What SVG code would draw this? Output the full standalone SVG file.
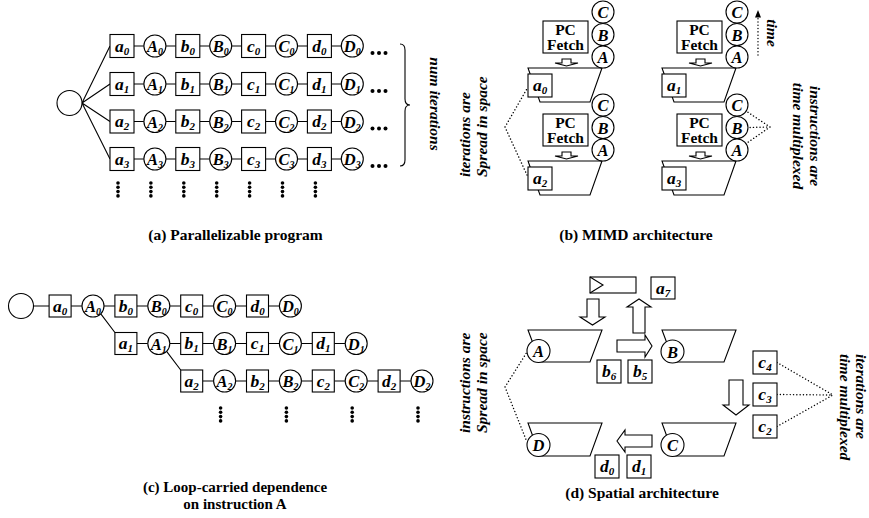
<svg xmlns="http://www.w3.org/2000/svg" width="869" height="518" viewBox="0 0 869 518">
<style>
.ln{stroke:#000;stroke-width:1.1;fill:none}
.nd{fill:#fff;stroke:#000;stroke-width:1.1}
.lb{font-family:"Liberation Serif","Times New Roman",serif;font-weight:bold;font-style:italic;font-size:17.5px;text-anchor:middle}
.sb{font-size:11px}
circle + text.lb{font-size:16.5px}
circle + text .sb{font-size:10px}
.cap{font-family:"Liberation Serif","Times New Roman",serif;font-weight:bold;font-size:15.5px;text-anchor:middle}
.rt{font-family:"Liberation Serif","Times New Roman",serif;font-weight:bold;font-style:italic;font-size:15.5px}
.dot{stroke:#000;stroke-width:1.4;stroke-dasharray:0.1 3.2;stroke-linecap:round;fill:none}
.pc{font-family:"Liberation Serif","Times New Roman",serif;font-weight:bold;font-size:15.5px;text-anchor:middle}
.blk{fill:#fff;stroke:#000;stroke-width:1.1}
</style>
<defs>
<g id="vd"><circle cx="0" cy="0" r="1.8"/><circle cx="0" cy="4.3" r="1.8"/><circle cx="0" cy="8.6" r="1.8"/><circle cx="0" cy="12.9" r="1.8"/></g>
<g id="hd"><circle cx="0" cy="0" r="2"/><circle cx="6.5" cy="0" r="2"/><circle cx="13" cy="0" r="2"/></g>
<g id="pe">
<polygon class="nd" points="528,68 602,68 590,102 540,102"/>
<rect class="nd" x="543" y="21" width="45" height="32"/>
<text class="pc" x="565.5" y="35">PC</text><text class="pc" x="565.5" y="50">Fetch</text>
<polygon class="nd" points="562,59 571,59 571,63 578,63 566.5,66 555,63 562,63"/>
<rect class="nd" x="528" y="74" width="24" height="23"/>
<circle class="nd" cx="603" cy="12" r="11"/><text class="lb" x="603" y="18">C</text>
<circle class="nd" cx="603" cy="34.5" r="11"/><text class="lb" x="603" y="40.5">B</text>
<circle class="nd" cx="603" cy="57" r="11"/><text class="lb" x="603" y="63">A</text>
</g>
</defs>

<!-- connectors -->
<g id="connectors">
<path class="ln" d="M82 103 L110 46 M82 103 L110 84 M82 103 L110 121.5 M82 103 L110 159"/>
<path class="ln" d="M134 46H143.9M165.9 46H175.8M199.8 46H209.7M231.7 46H241.6M265.6 46H275.5M297.5 46H307.4M331.4 46H341.3"/>
<path class="ln" d="M134 84H143.9M165.9 84H175.8M199.8 84H209.7M231.7 84H241.6M265.6 84H275.5M297.5 84H307.4M331.4 84H341.3"/>
<path class="ln" d="M134 121.5H143.9M165.9 121.5H175.8M199.8 121.5H209.7M231.7 121.5H241.6M265.6 121.5H275.5M297.5 121.5H307.4M331.4 121.5H341.3"/>
<path class="ln" d="M134 159H143.9M165.9 159H175.8M199.8 159H209.7M231.7 159H241.6M265.6 159H275.5M297.5 159H307.4M331.4 159H341.3"/>
<path class="ln" d="M400 44Q405 44 405 50V99Q405 105 410 105Q405 105 405 111V160Q405 166 400 166"/>
<path class="dot" d="M505 127L528 87M505 127L527 175"/>
<path class="dot" d="M770 127L746 111M770 127L748 127.5M770 127L746 143.7"/>
<path class="dot" d="M758 55V17"/>
<polygon points="755,17.5 761,17.5 758,10"/>
<path class="ln" d="M33.5 306H49.1M71.1 306H82M104 306H114.9M136.9 306H147.8M169.8 306H180.7M202.7 306H213.6M235.6 306H246.5M268.5 306H279.4"/>
<path class="ln" d="M136.9 343.5H147.8M169.8 343.5H180.7M202.7 343.5H213.6M235.6 343.5H246.5M268.5 343.5H279.4M301.4 343.5H312.3M334.3 343.5H345.2"/>
<path class="ln" d="M202.7 381H213.6M235.6 381H246.5M268.5 381H279.4M301.4 381H312.3M334.3 381H345.2M367.2 381H378.1M400.1 381H411"/>
<path class="ln" d="M100.8 313.8L114.9 332.5M166.6 351.3L180.7 370"/>
<polygon class="blk" points="587,299 599,299 599,317 605,317 592.5,325 580,317 587,317"/>
<polygon class="blk" points="633,333 645,333 645,307 651,307 639,299 627,307 633,307"/>
<polygon class="blk" points="617,340 645,340 645,335 652,346 645,357 645,352 617,352"/>
<polygon class="blk" points="729,380 743,380 743,405 749,405 736,415 723,405 729,405"/>
<polygon class="blk" points="652,435 625,435 625,430 617,441 625,452 625,447 652,447"/>
<path class="dot" d="M505 387L527 352M505 387L527 442"/>
<path class="dot" d="M777 362.5L833 395M777 394.5L833 395M777 426.5L833 395"/>
</g>

<!-- (a) -->
<g id="a-root"><circle class="nd" cx="69.5" cy="103" r="12.5"/></g>
<g id="a-a0"><rect class="nd" x="110" y="34.5" width="24" height="23"/><text class="lb" x="122" y="51.5">a<tspan class="sb" dy="3">0</tspan></text></g>
<g id="a-A0"><circle class="nd" cx="154.9" cy="46" r="11"/><text class="lb" x="154.9" y="52">A<tspan class="sb" dy="3">0</tspan></text></g>
<g id="a-b0"><rect class="nd" x="175.8" y="34.5" width="24" height="23"/><text class="lb" x="187.8" y="51.5">b<tspan class="sb" dy="3">0</tspan></text></g>
<g id="a-B0"><circle class="nd" cx="220.7" cy="46" r="11"/><text class="lb" x="220.7" y="52">B<tspan class="sb" dy="3">0</tspan></text></g>
<g id="a-c0"><rect class="nd" x="241.6" y="34.5" width="24" height="23"/><text class="lb" x="253.6" y="51.5">c<tspan class="sb" dy="3">0</tspan></text></g>
<g id="a-C0"><circle class="nd" cx="286.5" cy="46" r="11"/><text class="lb" x="286.5" y="52">C<tspan class="sb" dy="3">0</tspan></text></g>
<g id="a-d0"><rect class="nd" x="307.4" y="34.5" width="24" height="23"/><text class="lb" x="319.4" y="51.5">d<tspan class="sb" dy="3">0</tspan></text></g>
<g id="a-D0"><circle class="nd" cx="352.3" cy="46" r="11"/><text class="lb" x="352.3" y="52">D<tspan class="sb" dy="3">0</tspan></text></g>

<g id="a-a1"><rect class="nd" x="110" y="72.5" width="24" height="23"/><text class="lb" x="122" y="89.5">a<tspan class="sb" dy="3">1</tspan></text></g>
<g id="a-A1"><circle class="nd" cx="154.9" cy="84" r="11"/><text class="lb" x="154.9" y="90">A<tspan class="sb" dy="3">1</tspan></text></g>
<g id="a-b1"><rect class="nd" x="175.8" y="72.5" width="24" height="23"/><text class="lb" x="187.8" y="89.5">b<tspan class="sb" dy="3">1</tspan></text></g>
<g id="a-B1"><circle class="nd" cx="220.7" cy="84" r="11"/><text class="lb" x="220.7" y="90">B<tspan class="sb" dy="3">1</tspan></text></g>
<g id="a-c1"><rect class="nd" x="241.6" y="72.5" width="24" height="23"/><text class="lb" x="253.6" y="89.5">c<tspan class="sb" dy="3">1</tspan></text></g>
<g id="a-C1"><circle class="nd" cx="286.5" cy="84" r="11"/><text class="lb" x="286.5" y="90">C<tspan class="sb" dy="3">1</tspan></text></g>
<g id="a-d1"><rect class="nd" x="307.4" y="72.5" width="24" height="23"/><text class="lb" x="319.4" y="89.5">d<tspan class="sb" dy="3">1</tspan></text></g>
<g id="a-D1"><circle class="nd" cx="352.3" cy="84" r="11"/><text class="lb" x="352.3" y="90">D<tspan class="sb" dy="3">1</tspan></text></g>

<g id="a-a2"><rect class="nd" x="110" y="110" width="24" height="23"/><text class="lb" x="122" y="127">a<tspan class="sb" dy="3">2</tspan></text></g>
<g id="a-A2"><circle class="nd" cx="154.9" cy="121.5" r="11"/><text class="lb" x="154.9" y="127.5">A<tspan class="sb" dy="3">2</tspan></text></g>
<g id="a-b2"><rect class="nd" x="175.8" y="110" width="24" height="23"/><text class="lb" x="187.8" y="127">b<tspan class="sb" dy="3">2</tspan></text></g>
<g id="a-B2"><circle class="nd" cx="220.7" cy="121.5" r="11"/><text class="lb" x="220.7" y="127.5">B<tspan class="sb" dy="3">2</tspan></text></g>
<g id="a-c2"><rect class="nd" x="241.6" y="110" width="24" height="23"/><text class="lb" x="253.6" y="127">c<tspan class="sb" dy="3">2</tspan></text></g>
<g id="a-C2"><circle class="nd" cx="286.5" cy="121.5" r="11"/><text class="lb" x="286.5" y="127.5">C<tspan class="sb" dy="3">2</tspan></text></g>
<g id="a-d2"><rect class="nd" x="307.4" y="110" width="24" height="23"/><text class="lb" x="319.4" y="127">d<tspan class="sb" dy="3">2</tspan></text></g>
<g id="a-D2"><circle class="nd" cx="352.3" cy="121.5" r="11"/><text class="lb" x="352.3" y="127.5">D<tspan class="sb" dy="3">2</tspan></text></g>

<g id="a-a3"><rect class="nd" x="110" y="147.5" width="24" height="23"/><text class="lb" x="122" y="164.5">a<tspan class="sb" dy="3">3</tspan></text></g>
<g id="a-A3"><circle class="nd" cx="154.9" cy="159" r="11"/><text class="lb" x="154.9" y="165">A<tspan class="sb" dy="3">3</tspan></text></g>
<g id="a-b3"><rect class="nd" x="175.8" y="147.5" width="24" height="23"/><text class="lb" x="187.8" y="164.5">b<tspan class="sb" dy="3">3</tspan></text></g>
<g id="a-B3"><circle class="nd" cx="220.7" cy="159" r="11"/><text class="lb" x="220.7" y="165">B<tspan class="sb" dy="3">3</tspan></text></g>
<g id="a-c3"><rect class="nd" x="241.6" y="147.5" width="24" height="23"/><text class="lb" x="253.6" y="164.5">c<tspan class="sb" dy="3">3</tspan></text></g>
<g id="a-C3"><circle class="nd" cx="286.5" cy="159" r="11"/><text class="lb" x="286.5" y="165">C<tspan class="sb" dy="3">3</tspan></text></g>
<g id="a-d3"><rect class="nd" x="307.4" y="147.5" width="24" height="23"/><text class="lb" x="319.4" y="164.5">d<tspan class="sb" dy="3">3</tspan></text></g>
<g id="a-D3"><circle class="nd" cx="352.3" cy="159" r="11"/><text class="lb" x="352.3" y="165">D<tspan class="sb" dy="3">3</tspan></text></g>

<g id="a-dots">
<use href="#hd" x="372.5" y="53"/><use href="#hd" x="372.5" y="91"/><use href="#hd" x="372.5" y="128.5"/><use href="#hd" x="372.5" y="166"/>
<use href="#vd" x="118" y="183"/><use href="#vd" x="150.9" y="183"/><use href="#vd" x="183.8" y="183"/><use href="#vd" x="216.7" y="183"/><use href="#vd" x="249.6" y="183"/><use href="#vd" x="282.5" y="183"/><use href="#vd" x="315.4" y="183"/>
</g>
<text class="rt" transform="translate(430,104) rotate(90)" text-anchor="middle">num iterations</text>
<text class="cap" x="235.5" y="240">(a) Parallelizable program</text>

<!-- (b) MIMD -->
<g id="mimd-pe0"><use href="#pe"/><text class="lb" x="540" y="91">a<tspan class="sb" dy="3">0</tspan></text></g>
<g id="mimd-pe1" transform="translate(134,0)"><use href="#pe"/><text class="lb" x="540" y="91">a<tspan class="sb" dy="3">1</tspan></text></g>
<g id="mimd-pe2" transform="translate(0,93)"><use href="#pe"/><text class="lb" x="540" y="91">a<tspan class="sb" dy="3">2</tspan></text></g>
<g id="mimd-pe3" transform="translate(134,93)"><use href="#pe"/><text class="lb" x="540" y="91">a<tspan class="sb" dy="3">3</tspan></text></g>
<text class="rt" transform="translate(767,33) rotate(90)" text-anchor="middle">time</text>
<text class="rt" transform="translate(810,136) rotate(90)" text-anchor="middle"><tspan x="0" y="0">instructions are</tspan><tspan x="0" y="17">time multiplexed</tspan></text>
<text class="rt" transform="translate(470,177) rotate(-90)"><tspan x="0" y="0">iterations are</tspan><tspan x="0" y="17">Spread in space</tspan></text>
<text class="cap" x="636" y="240">(b) MIMD architecture</text>

<!-- (c) -->
<g id="c-root"><circle class="nd" cx="21" cy="306" r="12.5"/></g>
<g id="c-a0"><rect class="nd" x="49.1" y="295" width="22" height="22"/><text class="lb" x="60.1" y="311.5">a<tspan class="sb" dy="3">0</tspan></text></g>
<g id="c-A0"><circle class="nd" cx="93" cy="306" r="11"/><text class="lb" x="93" y="312">A<tspan class="sb" dy="3">0</tspan></text></g>
<g id="c-b0"><rect class="nd" x="114.9" y="295" width="22" height="22"/><text class="lb" x="125.9" y="311.5">b<tspan class="sb" dy="3">0</tspan></text></g>
<g id="c-B0"><circle class="nd" cx="158.8" cy="306" r="11"/><text class="lb" x="158.8" y="312">B<tspan class="sb" dy="3">0</tspan></text></g>
<g id="c-c0"><rect class="nd" x="180.7" y="295" width="22" height="22"/><text class="lb" x="191.7" y="311.5">c<tspan class="sb" dy="3">0</tspan></text></g>
<g id="c-C0"><circle class="nd" cx="224.6" cy="306" r="11"/><text class="lb" x="224.6" y="312">C<tspan class="sb" dy="3">0</tspan></text></g>
<g id="c-d0"><rect class="nd" x="246.5" y="295" width="22" height="22"/><text class="lb" x="257.5" y="311.5">d<tspan class="sb" dy="3">0</tspan></text></g>
<g id="c-D0"><circle class="nd" cx="290.4" cy="306" r="11"/><text class="lb" x="290.4" y="312">D<tspan class="sb" dy="3">0</tspan></text></g>

<g id="c-a1"><rect class="nd" x="114.9" y="332.5" width="22" height="22"/><text class="lb" x="125.9" y="349">a<tspan class="sb" dy="3">1</tspan></text></g>
<g id="c-A1"><circle class="nd" cx="158.8" cy="343.5" r="11"/><text class="lb" x="158.8" y="349.5">A<tspan class="sb" dy="3">1</tspan></text></g>
<g id="c-b1"><rect class="nd" x="180.7" y="332.5" width="22" height="22"/><text class="lb" x="191.7" y="349">b<tspan class="sb" dy="3">1</tspan></text></g>
<g id="c-B1"><circle class="nd" cx="224.6" cy="343.5" r="11"/><text class="lb" x="224.6" y="349.5">B<tspan class="sb" dy="3">1</tspan></text></g>
<g id="c-c1"><rect class="nd" x="246.5" y="332.5" width="22" height="22"/><text class="lb" x="257.5" y="349">c<tspan class="sb" dy="3">1</tspan></text></g>
<g id="c-C1"><circle class="nd" cx="290.4" cy="343.5" r="11"/><text class="lb" x="290.4" y="349.5">C<tspan class="sb" dy="3">1</tspan></text></g>
<g id="c-d1"><rect class="nd" x="312.3" y="332.5" width="22" height="22"/><text class="lb" x="323.3" y="349">d<tspan class="sb" dy="3">1</tspan></text></g>
<g id="c-D1"><circle class="nd" cx="356.2" cy="343.5" r="11"/><text class="lb" x="356.2" y="349.5">D<tspan class="sb" dy="3">1</tspan></text></g>

<g id="c-a2"><rect class="nd" x="180.7" y="370" width="22" height="22"/><text class="lb" x="191.7" y="386.5">a<tspan class="sb" dy="3">2</tspan></text></g>
<g id="c-A2"><circle class="nd" cx="224.6" cy="381" r="11"/><text class="lb" x="224.6" y="387">A<tspan class="sb" dy="3">2</tspan></text></g>
<g id="c-b2"><rect class="nd" x="246.5" y="370" width="22" height="22"/><text class="lb" x="257.5" y="386.5">b<tspan class="sb" dy="3">2</tspan></text></g>
<g id="c-B2"><circle class="nd" cx="290.4" cy="381" r="11"/><text class="lb" x="290.4" y="387">B<tspan class="sb" dy="3">2</tspan></text></g>
<g id="c-c2"><rect class="nd" x="312.3" y="370" width="22" height="22"/><text class="lb" x="323.3" y="386.5">c<tspan class="sb" dy="3">2</tspan></text></g>
<g id="c-C2"><circle class="nd" cx="356.2" cy="381" r="11"/><text class="lb" x="356.2" y="387">C<tspan class="sb" dy="3">2</tspan></text></g>
<g id="c-d2"><rect class="nd" x="378.1" y="370" width="22" height="22"/><text class="lb" x="389.1" y="386.5">d<tspan class="sb" dy="3">2</tspan></text></g>
<g id="c-D2"><circle class="nd" cx="422" cy="381" r="11"/><text class="lb" x="422" y="387">D<tspan class="sb" dy="3">2</tspan></text></g>
<g id="c-dots"><use href="#vd" x="220.6" y="408"/><use href="#vd" x="286.4" y="408"/><use href="#vd" x="352.2" y="408"/><use href="#vd" x="418" y="408"/></g>
<text class="cap" x="235" y="491.5" style="font-size:15px">(c) Loop-carried dependence</text>
<text class="cap" x="235" y="509" style="font-size:15px">on instruction A</text>

<!-- (d) spatial -->
<g id="d-A"><polygon class="nd" points="528,330 602,330 590,362 540,362"/><circle class="nd" cx="538.5" cy="351" r="11.5"/><text class="lb" x="538.5" y="357">A</text></g>
<g id="d-B"><polygon class="nd" points="662,330 736,330 724,362 674,362"/><circle class="nd" cx="672.5" cy="351.5" r="11.5"/><text class="lb" x="672.5" y="357.5">B</text></g>
<g id="d-D"><polygon class="nd" points="528,423 602,423 590,456 540,456"/><circle class="nd" cx="538.5" cy="445" r="11.5"/><text class="lb" x="538.5" y="451">D</text></g>
<g id="d-C"><polygon class="nd" points="662,423 736,423 724,456 674,456"/><circle class="nd" cx="672.5" cy="445" r="11.5"/><text class="lb" x="672.5" y="451">C</text></g>
<g id="d-reg"><rect class="nd" x="590" y="277" width="46" height="16"/><polyline class="ln" points="590,277 603,285 590,293"/></g>
<g id="d-a7"><rect class="nd" x="651" y="277" width="24" height="22"/><text class="lb" x="663" y="293.5">a<tspan class="sb" dy="3">7</tspan></text></g>
<g id="d-b6"><rect class="nd" x="597" y="360" width="24" height="23"/><text class="lb" x="609" y="377">b<tspan class="sb" dy="3">6</tspan></text></g>
<g id="d-b5"><rect class="nd" x="628" y="360" width="24" height="23"/><text class="lb" x="640" y="377">b<tspan class="sb" dy="3">5</tspan></text></g>
<g id="d-d0"><rect class="nd" x="595" y="455" width="24" height="23"/><text class="lb" x="607" y="472">d<tspan class="sb" dy="3">0</tspan></text></g>
<g id="d-d1"><rect class="nd" x="627" y="455" width="24" height="23"/><text class="lb" x="639" y="472">d<tspan class="sb" dy="3">1</tspan></text></g>
<g id="d-c4"><rect class="nd" x="753" y="351" width="24" height="23"/><text class="lb" x="765" y="368">c<tspan class="sb" dy="3">4</tspan></text></g>
<g id="d-c3"><rect class="nd" x="753" y="383" width="24" height="23"/><text class="lb" x="765" y="400">c<tspan class="sb" dy="3">3</tspan></text></g>
<g id="d-c2"><rect class="nd" x="753" y="415" width="24" height="23"/><text class="lb" x="765" y="432">c<tspan class="sb" dy="3">2</tspan></text></g>
<text class="rt" transform="translate(470,433) rotate(-90)"><tspan x="0" y="0">instructions are</tspan><tspan x="0" y="17">Spread in space</tspan></text>
<text class="rt" transform="translate(856,354) rotate(90)"><tspan x="0" y="0">iterations are</tspan><tspan x="0" y="16.5">time multiplexed</tspan></text>
<text class="cap" x="642" y="498">(d) Spatial architecture</text>
</svg>
